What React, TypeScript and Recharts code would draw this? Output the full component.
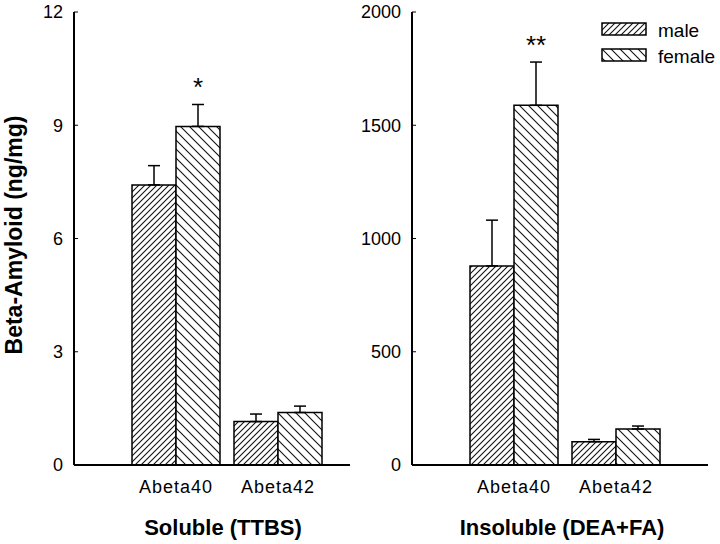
import React from "react";
import { BarChart, Bar, XAxis, YAxis, ErrorBar, LabelList, Legend } from "recharts";

const categories = ["Abeta40", "Abeta42"];
const seriesNames = ["male", "female"];

const solubleMale = [7.42, 1.15];
const solubleMaleErr = [0.51, 0.2];
const solubleFemale = [8.97, 1.39];
const solubleFemaleErr = [0.58, 0.17];
const solubleSig = ["*", ""];

const insolubleMale = [879, 103];
const insolubleMaleErr = [202, 10];
const insolubleFemale = [1588, 159];
const insolubleFemaleErr = [191, 13];
const insolubleSig = ["**", ""];

const solubleTicks = [0, 3, 6, 9, 12];
const insolubleTicks = [0, 500, 1000, 1500, 2000];

const FONT = '"Liberation Sans", Arial, sans-serif';
const fills: Record<string, string> = {
  male: "url(#maleHatch)",
  female: "url(#femaleHatch)",
};

const buildRows = (
  male: number[],
  maleErr: number[],
  female: number[],
  femaleErr: number[],
  sig: string[]
) =>
  categories.map((name, i) => ({
    name,
    male: male[i],
    female: female[i],
    maleErr: [0, maleErr[i]],
    femaleErr: [0, femaleErr[i]],
    femaleUp: femaleErr[i],
    sig: sig[i],
  }));

const solubleRows = buildRows(solubleMale, solubleMaleErr, solubleFemale, solubleFemaleErr, solubleSig);
const insolubleRows = buildRows(insolubleMale, insolubleMaleErr, insolubleFemale, insolubleFemaleErr, insolubleSig);

// star sits just above the female error bar
const sigLabel = (rows: any[]) => (props: any) => {
  const vb = props.viewBox ?? props;
  const value = props.value;
  if (!value) return null;
  const row = rows.find((r) => r.sig === value);
  if (!row) return null;
  const top = Math.min(vb.y, vb.y + vb.height);
  const h = Math.abs(vb.height);
  const errPx = (h * row.femaleUp) / row.female;
  return (
    <text
      x={vb.x + vb.width / 2}
      y={top - errPx - 8}
      textAnchor="middle"
      fontSize={26}
      fontFamily={FONT}
      fill="#000"
    >
      {value}
    </text>
  );
};

const xTitle = (text: string, dx: number) => (props: any) => {
  const vb = props.viewBox;
  return (
    <text
      x={vb.x + vb.width / 2 + dx}
      y={vb.y + 70}
      textAnchor="middle"
      fontSize={22}
      fontWeight="bold"
      fontFamily={FONT}
      fill="#000"
    >
      {text}
    </text>
  );
};

const yTitle = (props: any) => {
  const vb = props.viewBox;
  const cx = vb.x + 7.5;
  const cy = vb.y + vb.height / 2 - 3.5;
  return (
    <text
      transform={`translate(${cx},${cy}) rotate(-90)`}
      textAnchor="middle"
      fontSize={23}
      fontWeight="bold"
      fontFamily={FONT}
      fill="#000"
    >
      Beta-Amyloid (ng/mg)
    </text>
  );
};

const renderLegend = (props: any) => {
  const payload = [...(props.payload || [])].sort(
    (a: any, b: any) => seriesNames.indexOf(a.value) - seriesNames.indexOf(b.value)
  );
  return (
    <svg width={118} height={50}>
      {payload.map((entry: any, i: number) => (
        <g key={entry.value}>
          <rect
            x={2}
            y={3 + i * 26}
            width={44}
            height={12}
            fill={fills[entry.value]}
            stroke="#000"
            strokeWidth={1.5}
          />
          <text x={58} y={17 + i * 26} fontSize={19} fontFamily={FONT} fill="#000">
            {entry.value}
          </text>
        </g>
      ))}
    </svg>
  );
};

const tickStyle = { fill: "#000", fontSize: 18, fontFamily: FONT };
const axisLine = { stroke: "#000", strokeWidth: 2 };

const Panel = ({
  rows,
  ticks,
  max,
  left,
  yWidth,
  margin,
  padding,
  title,
  titleDx,
  withYTitle,
  withLegend,
}: any) => (
  <div style={{ position: "absolute", left, top: 0 }}>
    <BarChart width={360} height={544} data={rows} margin={margin} barGap={0} barSize={44}>
      <XAxis
        dataKey="name"
        type="category"
        padding={padding}
        height={60}
        tickLine={false}
        tickSize={6}
        tickMargin={9}
        axisLine={axisLine}
        tick={{ ...tickStyle, letterSpacing: 1 }}
        label={{ content: xTitle(title, titleDx) }}
      />
      <YAxis
        type="number"
        domain={[0, max]}
        ticks={ticks}
        interval={0}
        width={yWidth}
        axisLine={axisLine}
        tickLine={{ stroke: "#000", strokeWidth: 1 }}
        tickSize={-4}
        tickMargin={15}
        tick={tickStyle}
        label={withYTitle ? { content: yTitle } : undefined}
      />
      {withLegend && (
        <Legend
          layout="vertical"
          align="center"
          verticalAlign="middle"
          wrapperStyle={{ top: 20, left: 240, width: 118 }}
          content={renderLegend}
        />
      )}
      <Bar dataKey="male" name="male" fill={fills.male} stroke="#000" strokeWidth={1.5} isAnimationActive={false}>
        <ErrorBar dataKey="maleErr" width={6} stroke="#000" strokeWidth={1.5} direction="y" />
      </Bar>
      <Bar dataKey="female" name="female" fill={fills.female} stroke="#000" strokeWidth={1.5} isAnimationActive={false}>
        <ErrorBar dataKey="femaleErr" width={6} stroke="#000" strokeWidth={1.5} direction="y" />
        <LabelList dataKey="sig" content={sigLabel(rows)} />
      </Bar>
    </BarChart>
  </div>
);

export default function App() {
  return (
    <div
      style={{
        position: "absolute",
        left: 0,
        top: 0,
        width: 720,
        height: 544,
        overflow: "hidden",
        background: "#fff",
        fontFamily: FONT,
      }}
    >
      <svg width={0} height={0} style={{ position: "absolute" }}>
        <defs>
          <pattern id="maleHatch" patternUnits="userSpaceOnUse" width={6} height={6}>
            <rect width={6} height={6} fill="#fff" />
            <path d="M-1,1 l2,-2 M0,6 l6,-6 M5,7 l2,-2" stroke="#111" strokeWidth={1.1} />
          </pattern>
          <pattern id="femaleHatch" patternUnits="userSpaceOnUse" width={9} height={9}>
            <rect width={9} height={9} fill="#fff" />
            <path d="M-1,8 l2,2 M0,0 l9,9 M8,-1 l2,2" stroke="#111" strokeWidth={1.1} />
          </pattern>
        </defs>
      </svg>
      <Panel
        rows={solubleRows}
        ticks={solubleTicks}
        max={12}
        left={0}
        yWidth={60}
        margin={{ top: 12, right: 10, bottom: 19, left: 14 }}
        padding={{ left: 51, right: 21 }}
        title="Soluble (TTBS)"
        titleDx={11}
        withYTitle
      />
      <Panel
        rows={insolubleRows}
        ticks={insolubleTicks}
        max={2000}
        left={360}
        yWidth={52}
        margin={{ top: 12, right: 12, bottom: 19, left: 0 }}
        padding={{ left: 51, right: 41 }}
        title="Insoluble (DEA+FA)"
        titleDx={2}
        withLegend
      />
    </div>
  );
}
